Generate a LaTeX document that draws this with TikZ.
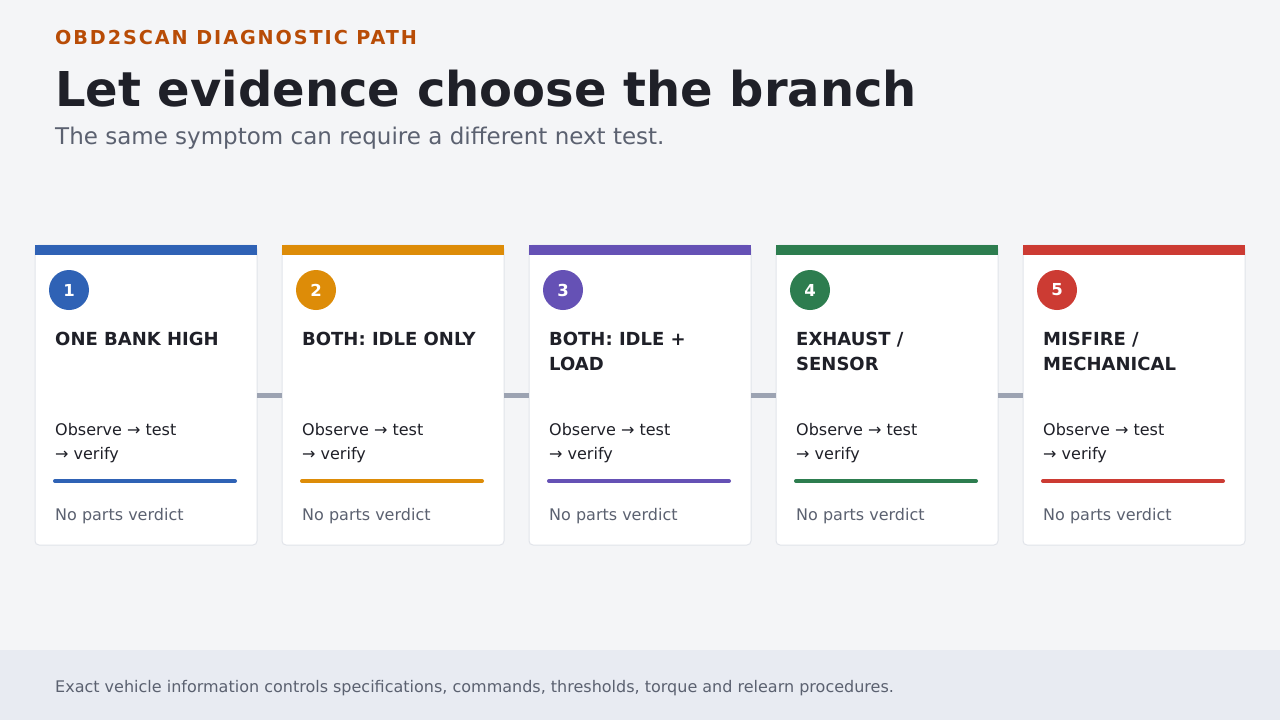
\documentclass[tikz,border=0pt]{standalone}
\usepackage{fontspec}
\setmainfont{DejaVu Sans}
\newfontfamily\spacedfont[LetterSpace=10]{DejaVu Sans}
\definecolor{bg}{HTML}{F4F5F7}
\definecolor{footbg}{HTML}{E8EBF2}
\definecolor{cardborder}{HTML}{E1E4EA}
\definecolor{ink}{HTML}{1F2028}
\definecolor{muted}{HTML}{5B6170}
\definecolor{kicker}{HTML}{B84C06}
\definecolor{conn}{HTML}{9CA3B2}
\definecolor{cA}{HTML}{2F62B5}
\definecolor{cB}{HTML}{DD8C08}
\definecolor{cC}{HTML}{6551B5}
\definecolor{cD}{HTML}{2D7D4F}
\definecolor{cE}{HTML}{CC3B33}
\tikzset{
  cardbox/.style={draw=cardborder, line width=1pt, fill=white, rounded corners=4pt, minimum width=222pt, minimum height=300pt, inner sep=0pt, outer sep=0pt},
  topbar/.style={fill=#1, draw=none, minimum width=222pt, minimum height=10pt, inner sep=0pt, outer sep=0pt, anchor=north},
  badge/.style={circle, fill=#1, minimum size=40pt, inner sep=0pt, text=white, font=\fontsize{16.5}{16}\selectfont\bfseries},
  cardtitle/.style={anchor=north west, align=left, text=ink, inner sep=0pt, font=\fontsize{18}{25}\selectfont\bfseries},
  bodytext/.style={anchor=north west, align=left, text=ink, inner sep=0pt, font=\fontsize{16}{24}\selectfont},
  verdict/.style={anchor=base west, text=muted, inner sep=0pt, font=\fontsize{16}{19}\selectfont},
  accent/.style={draw=#1, line width=4pt, line cap=round},
  link/.style={draw=conn, line width=5pt}
}
\begin{document}
\begin{tikzpicture}[x=1pt,y=-1pt]
\useasboundingbox (0,0) rectangle (1280,720);
\fill[bg] (0,0) rectangle (1280,720);
\fill[footbg] (0,650) rectangle (1280,720);
\node[anchor=base west, inner sep=0pt, text=kicker, font=\fontsize{19.2}{20}\spacedfont\bfseries] (kick) at (55,44) {OBD2SCAN DIAGNOSTIC PATH};
\node[anchor=base west, inner sep=0pt, text=ink, font=\fontsize{48}{50}\selectfont\bfseries] (headline) at (55,106) {Let evidence choose the branch};
\node[anchor=base west, inner sep=0pt, text=muted, font=\fontsize{23}{24}\selectfont] (sub) at (55,144) {The same symptom can require a different next test.};
\node[anchor=base west, inner sep=0pt, text=muted, font=\fontsize{16}{18}\selectfont] (foot) at (55,692) {Exact vehicle information controls specifications, commands, thresholds, torque and relearn procedures.};
\foreach \i/\col/\ttl in {1/cA/{ONE BANK HIGH},2/cB/{BOTH: IDLE ONLY},3/cC/{BOTH: IDLE +\\LOAD},4/cD/{EXHAUST /\\SENSOR},5/cE/{MISFIRE /\\MECHANICAL}}{
  \pgfmathsetmacro{\xl}{35+(\i-1)*247}
  \node[cardbox, anchor=north west] (card\i) at (\xl,245) {};
  \node[topbar=\col] (bar\i) at (card\i.north) {};
  \node[badge=\col] (num\i) at (\xl+34,290) {\i};
  \node[cardtitle] (title\i) at (\xl+20,332) {\ttl};
  \node[bodytext] (body\i) at (\xl+20,423) {Observe → test\\→ verify};
  \coordinate (al\i) at (\xl+20,481);
  \coordinate (ar\i) at (\xl+200,481);
  \draw[accent=\col] (al\i) -- (ar\i);
  \node[verdict] (verd\i) at (\xl+20,520) {No parts verdict};
}
\foreach \i/\j in {1/2,2/3,3/4,4/5}{
  \draw[link] ([yshift=-0.5pt]card\i.east) -- ([yshift=-0.5pt]card\j.west);
}
\end{tikzpicture}
\end{document}
